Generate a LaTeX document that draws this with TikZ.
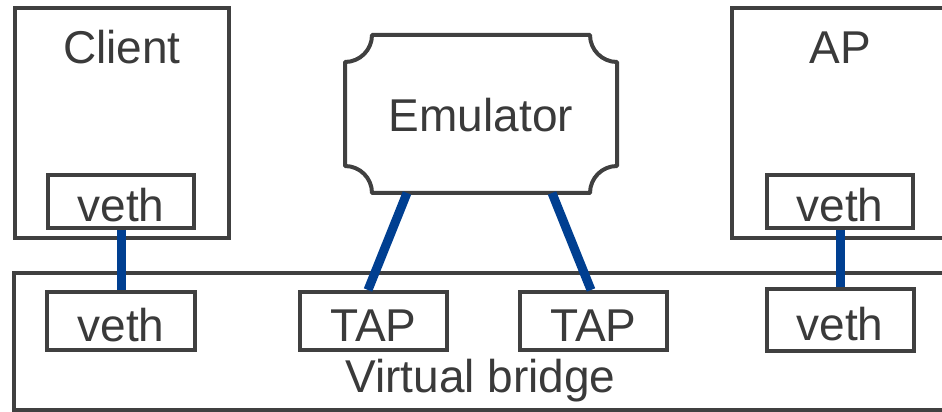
\documentclass[tikz,border=0pt]{standalone}
\usepackage{fontspec}
\setmainfont{Liberation Sans}
\usetikzlibrary{calc}
\definecolor{edgegray}{HTML}{404040}
\definecolor{txtgray}{HTML}{3A3A3A}
\definecolor{linkblue}{HTML}{003F91}
\begin{document}
\begin{tikzpicture}[x=1pt,y=1pt,
  box/.style={draw=edgegray, line width=4pt, fill=white, inner sep=0pt, text=txtgray,
              font=\fontsize{46}{50}\selectfont},
  port/.style={box, text height=41pt, text depth=0pt},
  lbl/.style={inner sep=0pt, text=txtgray, font=\fontsize{46}{50}\selectfont},
  linkline/.style={draw=linkblue, line width=9pt}]
\useasboundingbox (0,0) rectangle (942,412);
\clip (0,0) rectangle (942,412);

% outer boxes
\node[box, minimum width=214pt, minimum height=230pt] (client) at (122,289) {};
\node[box, minimum width=268pt, minimum height=230pt] (ap) at (866,289) {};
\node[box, minimum width=986pt, minimum height=137pt] (bridge) at (507,70.5) {};

% labels
\node[lbl] (clientlbl) at (122,364.5) {Client};
\node[lbl] (aplbl) at (840,364.5) {AP};
\node[lbl, anchor=base] (bridgelbl) at (480.5,19) {Virtual bridge};

% emulator (concave corners)
\draw[draw=edgegray, line width=4pt, fill=white, line join=round]
  (345,246) -- (345,350) arc[start angle=-90, end angle=0, radius=27]
  -- (590,377) arc[start angle=180, end angle=270, radius=27]
  -- (617,246) arc[start angle=90, end angle=180, radius=27]
  -- (372,219) arc[start angle=0, end angle=90, radius=27] -- cycle;
\node[lbl] (emu) at (481,297) {Emulator};
\coordinate (emuL) at (407,219);
\coordinate (emuR) at (552,219);

% ports
\node[port, minimum width=146pt, minimum height=53pt] (cveth) at (121,210.5) {veth};
\node[port, minimum width=146pt, minimum height=53pt] (aveth) at (840,210.5) {veth};
\node[port, minimum width=148pt, minimum height=58pt] (bvethL) at (121,91) {veth};
\node[port, minimum width=147pt, minimum height=58pt] (tap1) at (373.5,91) {TAP};
\node[port, minimum width=147pt, minimum height=58pt] (tap2) at (593.5,91) {TAP};
\node[port, minimum width=147pt, minimum height=62pt] (bvethR) at (840,91.5) {veth};

\coordinate (tap1in) at ($(tap1.north)+(-5.5,0)$);
\coordinate (tap2in) at ($(tap2.north)+(-2.5,0)$);

% links
\draw[linkline] (cveth.south) -- (bvethL.north);
\draw[linkline] (aveth.south) -- (bvethR.north);
\draw[linkline] (emuL) -- (tap1in);
\draw[linkline] (emuR) -- (tap2in);
\end{tikzpicture}
\end{document}
